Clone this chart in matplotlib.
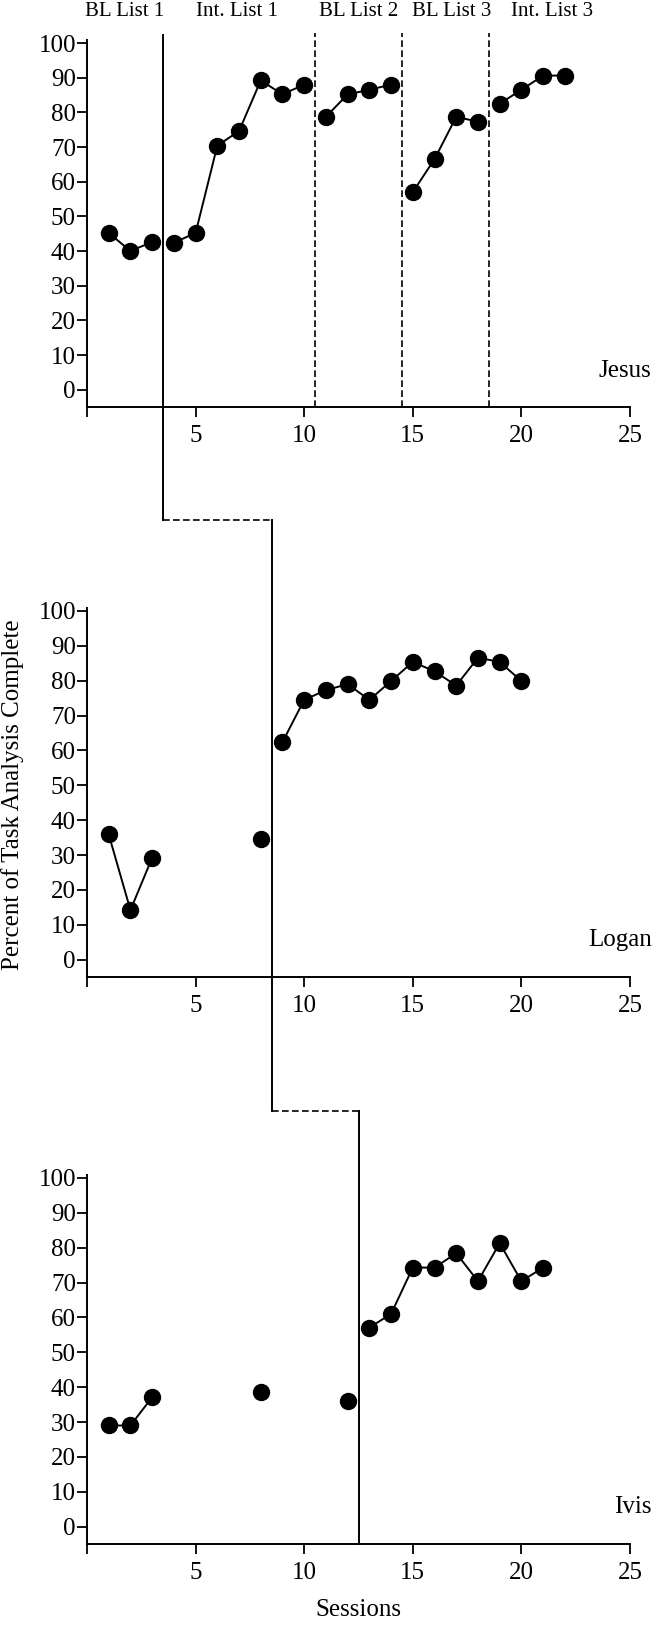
import matplotlib
matplotlib.use("Agg")
import matplotlib.pyplot as plt
import matplotlib.transforms as mtransforms

plt.rcParams["font.family"] = "Liberation Serif"

# Jesus
jesus_segments = [
    ([1, 2, 3], [45.2, 40.0, 42.6]),
    ([4, 5, 6, 7, 8, 9, 10], [42.4, 45.2, 70.4, 74.6, 89.2, 85.2, 88.0]),
    ([11, 12, 13, 14], [78.7, 85.2, 86.5, 88.0]),
    ([15, 16, 17, 18], [57.0, 66.5, 78.7, 77.3]),
    ([19, 20, 21, 22], [82.5, 86.5, 90.6, 90.6]),
]
# Logan
logan_segments = [
    ([1, 2, 3], [35.9, 14.2, 29.2]),
    ([8], [34.5]),
    ([9, 10, 11, 12, 13, 14, 15, 16, 17, 18, 19, 20],
     [62.4, 74.5, 77.3, 79.0, 74.5, 79.9, 85.4, 82.7, 78.6, 86.6, 85.4, 79.9]),
]
# Ivis
ivis_segments = [
    ([1, 2, 3], [29.0, 29.0, 37.1]),
    ([8], [38.5]),
    ([12], [35.9]),
    ([13, 14, 15, 16, 17, 18, 19, 20, 21],
     [57.1, 61.0, 74.3, 74.3, 78.4, 70.4, 81.3, 70.4, 74.3]),
]
names = ["Jesus", "Logan", "Ivis"]
phase_labels = ["BL List 1", "Int. List 1", "BL List 2", "BL List 3", "Int. List 3"]
phase_label_x = [1.75, 6.9, 12.5, 16.8, 21.4]
x_ticks = [0, 5, 10, 15, 20, 25]
y_ticks = list(range(0, 101, 10))

W, H = 657, 1626
fig = plt.figure(figsize=(W / 100, H / 100), dpi=100)

def px_rect(top, bottom):
    left, right = 87, 630
    return [left / W, 1 - bottom / H, (right - left) / W, (bottom - top) / H]

ax1 = fig.add_axes(px_rect(43, 407))
ax2 = fig.add_axes(px_rect(611, 977))
ax3 = fig.add_axes(px_rect(1178, 1544))
axes = [ax1, ax2, ax3]

for ax, segs, name in zip(axes, [jesus_segments, logan_segments, ivis_segments], names):
    for xs, ys in segs:
        ax.plot(xs, ys, color="black", lw=1.4, marker="o", markersize=11.5,
                clip_on=False)
    ax.set_xlim(0, 25)
    ax.set_ylim(-5, 100)
    ax.set_xticks(x_ticks)
    ax.set_xticklabels(["" if t == 0 else str(t) for t in x_ticks])
    ax.set_yticks(y_ticks)
    ax.spines["top"].set_visible(False)
    ax.spines["right"].set_visible(False)
    ax.spines["left"].set_bounds(-5, 101)
    for s in ["left", "bottom"]:
        ax.spines[s].set_linewidth(1.4)
    ax.tick_params(direction="out", length=7, width=1.3, labelsize=18, pad=1)
    ax.tick_params(axis="x", pad=6)
    ax.text(1.04, 0.1, name, transform=ax.transAxes, ha="right", va="center",
            fontsize=18)

# phase change lines in panel 1 (dashed)
for x in [10.5, 14.5, 18.5]:
    ax1.plot([x, x], [-5, 103], color="black", lw=1.2, ls=(0, (4, 2)),
             clip_on=False)

# staggered multiple-baseline line, figure y coordinates
def fy(py):
    return 1 - py / H

t1 = mtransforms.blended_transform_factory(ax1.transData, fig.transFigure)
fig.add_artist(plt.Line2D([3.5, 3.5], [fy(35), fy(520)], transform=t1,
                          color="black", lw=1.4))
fig.add_artist(plt.Line2D([3.5, 8.5], [fy(520), fy(520)], transform=t1,
                          color="black", lw=1.2, ls=(0, (4, 2))))
fig.add_artist(plt.Line2D([8.5, 8.5], [fy(520), fy(1111)], transform=t1,
                          color="black", lw=1.4))
fig.add_artist(plt.Line2D([8.5, 12.5], [fy(1111), fy(1111)], transform=t1,
                          color="black", lw=1.2, ls=(0, (4, 2))))
fig.add_artist(plt.Line2D([12.5, 12.5], [fy(1111), fy(1544)], transform=t1,
                          color="black", lw=1.4))

for lab, x in zip(phase_labels, phase_label_x):
    fig.text(x, fy(12), lab, transform=t1, ha="center", va="center", fontsize=15)

fig.text(13 / W, fy(795), "Percent of Task Analysis Complete", rotation=90,
         ha="center", va="center", fontsize=18)
fig.text(12.5, fy(1610), "Sessions", transform=t1, ha="center", va="center",
         fontsize=18)

fig.savefig("out.png", dpi=100)
